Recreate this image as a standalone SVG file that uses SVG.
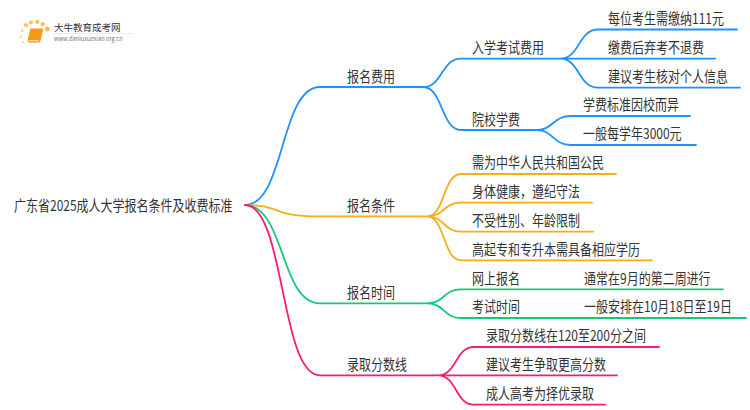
<svg xmlns="http://www.w3.org/2000/svg" width="750" height="410" viewBox="0 0 750 410">
<style>
text{font-family:"Noto Sans CJK SC","Noto Sans",sans-serif;font-size:15px;fill:#333}
.c path{fill:none;stroke-width:1.8;stroke-linecap:round}
.b{stroke:#1e90ff}.o{stroke:#fbad14}.g{stroke:#14c878}.p{stroke:#ff1a75}
</style>
<rect width="750" height="410" fill="#fff"/>
<g id="logo">
<g fill="#fbbf4a"><circle cx="26" cy="25" r="2"/><circle cx="31" cy="22.500" r="2"/><circle cx="37.300" cy="22" r="2.100"/><circle cx="42.700" cy="24" r="2.100"/><circle cx="47.300" cy="29" r="2.500"/></g>
<g fill="#fbd080"><circle cx="22.300" cy="30.700" r="1.300"/><circle cx="20.700" cy="36.700" r="1.100"/><circle cx="23.300" cy="42.300" r="1.100"/></g>
<path d="M30.500 28.500h11.500q1.500 0 1 1.500l-2.500 11q-.5 1.500-2 1.500H29q-2 0-1.500-2z" fill="#f59a12"/>
<path d="M28.500 40h10.500l-.3 1.300H28.200z" fill="#fde0a8"/>
<text x="54" y="31" style="font-size:9.500px">大牛教育成考网</text>
<path d="M54 33.500h79" stroke="#e6e6e6" stroke-width=".8"/>
<text x="54" y="41" style="font-size:5.700px;fill:#777">www.daniuxuexiao.org.cn</text>
</g>
<g class="c" id="connectors">
<path class="b" d="M245 205C285 205 280 87 320 87H423C443 87 441 58.700 461 58.700H560C580 58.700 578 29.500 598 29.500H737M560 58.700H715M560 58.700C580 58.700 578 87.700 598 87.700H740M423 87C443 87 441 130 461 130H537C553 130 553 116 571 116H690M537 130C553 130 553 145 571 145H696"/>
<path class="o" d="M245 205C280 205 275 216.300 312 216.300H427C445 216.300 443 174 461 174H616M427 216.300C445 216.300 443 202.700 461 202.700H592M427 216.300C445 216.300 443 231.700 461 231.700H593M427 216.300C445 216.300 443 260.300 461 260.300H652"/>
<path class="g" d="M245 205C285 205 280 303.300 320 303.300H427C445 303.300 443 289.300 461 289.300H723M427 303.300C445 303.300 443 318 461 318H746"/>
<path class="p" d="M245 205C285 205 280 375.300 320 375.300H438C457 375.300 455 347 474 347H659M438 375.300H617M438 375.300C457 375.300 455 404.700 474 404.700H605"/>
</g>
<g id="root"><text transform="translate(14 211) scale(.8 1)">广东省2025成人大学报名条件及收费标准</text></g>
<g id="n1"><text transform="translate(347 82) scale(.8 1)">报名费用</text></g>
<g id="n2"><text transform="translate(472 53) scale(.8 1)">入学考试费用</text></g>
<g id="n3"><text transform="translate(608 24) scale(.8 1)">每位考生需缴纳111元</text></g>
<g id="n4"><text transform="translate(608 53) scale(.8 1)">缴费后弃考不退费</text></g>
<g id="n5"><text transform="translate(608 82) scale(.8 1)">建议考生核对个人信息</text></g>
<g id="n6"><text transform="translate(472 125) scale(.8 1)">院校学费</text></g>
<g id="n7"><text transform="translate(583 110) scale(.8 1)">学费标准因校而异</text></g>
<g id="n8"><text transform="translate(583 139) scale(.8 1)">一般每学年3000元</text></g>
<g id="n9"><text transform="translate(347 211) scale(.8 1)">报名条件</text></g>
<g id="n10"><text transform="translate(472 168) scale(.8 1)">需为中华人民共和国公民</text></g>
<g id="n11"><text transform="translate(472 197) scale(.8 1)">身体健康，遵纪守法</text></g>
<g id="n12"><text transform="translate(472 226) scale(.8 1)">不受性别、年龄限制</text></g>
<g id="n13"><text transform="translate(472 255) scale(.8 1)">高起专和专升本需具备相应学历</text></g>
<g id="n14"><text transform="translate(347 298) scale(.8 1)">报名时间</text></g>
<g id="n15"><text transform="translate(472 284) scale(.8 1)">网上报名</text></g>
<g id="n16"><text transform="translate(584 284) scale(.8 1)">通常在9月的第二周进行</text></g>
<g id="n17"><text transform="translate(472 312) scale(.8 1)">考试时间</text></g>
<g id="n18"><text transform="translate(584 312) scale(.8 1)">一般安排在10月18日至19日</text></g>
<g id="n19"><text transform="translate(347 370) scale(.8 1)">录取分数线</text></g>
<g id="n20"><text transform="translate(486 341) scale(.8 1)">录取分数线在120至200分之间</text></g>
<g id="n21"><text transform="translate(486 370) scale(.8 1)">建议考生争取更高分数</text></g>
<g id="n22"><text transform="translate(486 399) scale(.8 1)">成人高考为择优录取</text></g>
</svg>
